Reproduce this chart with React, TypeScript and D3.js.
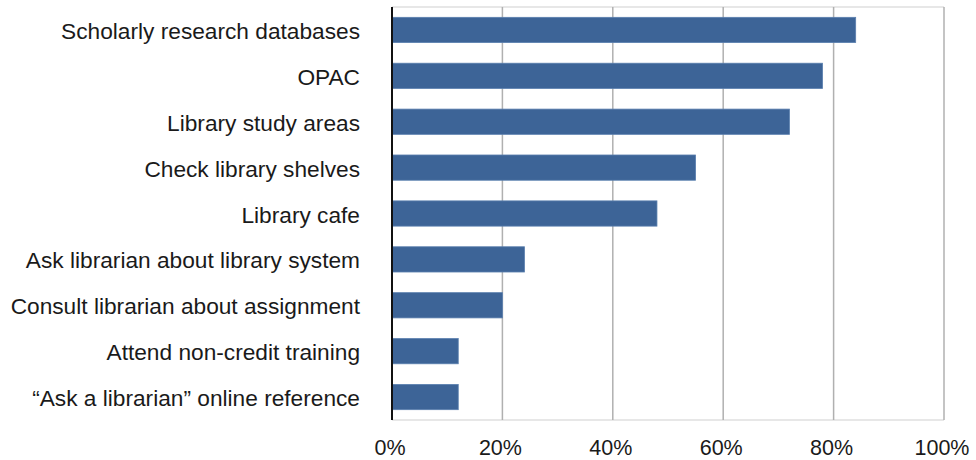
import React from "react";
import * as d3 from "d3";

const categories = [
  "Scholarly research databases",
  "OPAC",
  "Library study areas",
  "Check library shelves",
  "Library cafe",
  "Ask librarian about library system",
  "Consult librarian about assignment",
  "Attend non-credit training",
  "\u201cAsk a librarian\u201d online reference",
];
const values = [84, 78, 72, 55, 48, 24, 20, 12, 12];
const ticks = [0, 20, 40, 60, 80, 100];

const W = 976;
const H = 460;
const margin = { top: 7, right: 32, bottom: 40, left: 392 };

export default function App() {
  const x = d3
    .scaleLinear()
    .domain([0, 100])
    .range([margin.left, W - margin.right]);
  const y = d3
    .scaleBand()
    .domain(categories)
    .range([margin.top, H - margin.bottom])
    .paddingInner(0.45)
    .paddingOuter(0.225);

  const font = "Helvetica, 'Liberation Sans', Arial, sans-serif";
  const bottom = H - margin.bottom;

  return (
    <svg
      width={W}
      height={H}
      style={{ position: "absolute", left: 0, top: 0, background: "#fff" }}
      fontFamily={font}
    >
      {/* top & bottom frame */}
      <line x1={margin.left} x2={x(100)} y1={margin.top} y2={margin.top} stroke="#cfcfcf" />
      <line x1={margin.left} x2={x(100)} y1={bottom} y2={bottom} stroke="#cfcfcf" />

      {/* gridlines */}
      {ticks.slice(1).map((t) => (
        <line
          key={t}
          x1={x(t)}
          x2={x(t)}
          y1={margin.top}
          y2={bottom}
          stroke="#b0b0b0"
          strokeWidth={1.5}
        />
      ))}

      {/* bars */}
      {categories.map((c, i) => (
        <rect
          key={c}
          x={x(0)}
          y={y(c)!}
          width={x(values[i]) - x(0)}
          height={y.bandwidth()}
          fill="#3d6497"
          stroke="#5a7fae"
          strokeWidth={0.8}
        />
      ))}

      {/* y axis line */}
      <line x1={x(0)} x2={x(0)} y1={margin.top} y2={bottom} stroke="#111" strokeWidth={2} />

      {/* category labels */}
      {categories.map((c) => (
        <text
          key={c}
          x={margin.left - 32}
          y={y(c)! + y.bandwidth() / 2}
          dy="0.4em"
          textAnchor="end"
          fontSize={22.7}
          fill="#1a1a1a"
        >
          {c}
        </text>
      ))}

      {/* x tick labels */}
      {ticks.map((t) => (
        <text
          key={t}
          x={x(t) - 2}
          y={bottom + 35}
          textAnchor="middle"
          fontSize={21.5}
          fill="#1a1a1a"
        >
          {t + "%"}
        </text>
      ))}
    </svg>
  );
}
